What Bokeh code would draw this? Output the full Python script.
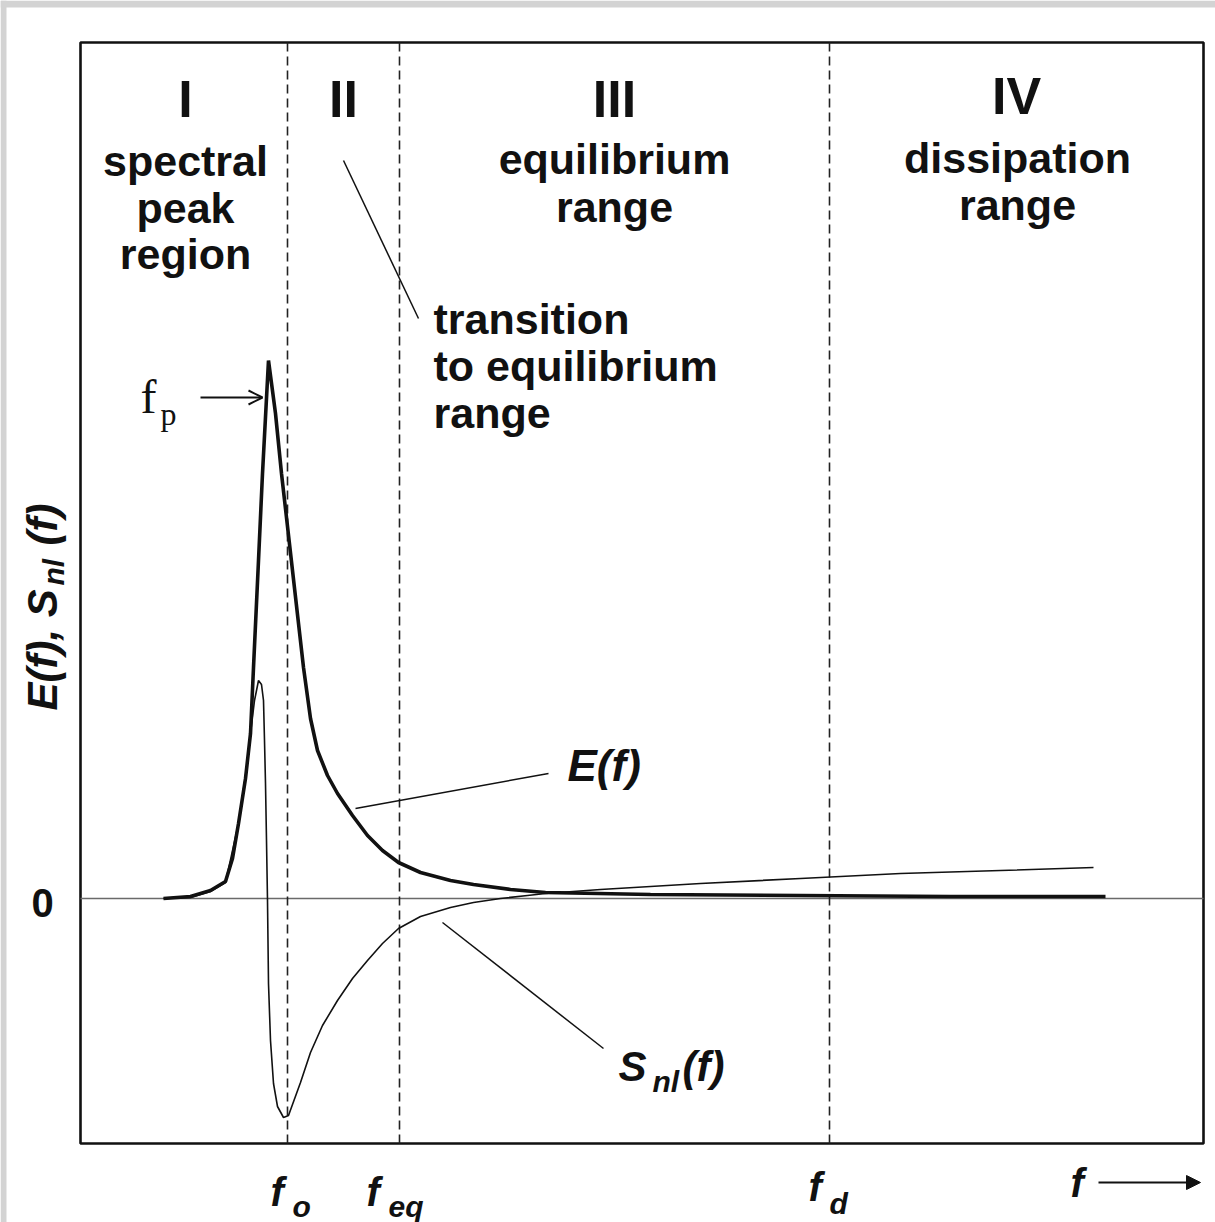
from math import pi

from bokeh.core.properties import value
from bokeh.embed import file_html
from bokeh.models import Arrow, NormalHead, OpenHead, Range1d
from bokeh.plotting import figure
from bokeh.resources import INLINE

# ---------------------------------------------------------------------------
# Schematic wave spectrum E(f) and non-linear transfer S_nl(f)
# (arbitrary units; frequency increases to the right)
# ---------------------------------------------------------------------------
freq_E = [0.83, 1.10, 1.30, 1.45, 1.52, 1.58, 1.65, 1.70, 1.73, 1.78, 1.82,
          1.88, 1.95, 2.01, 2.12, 2.23, 2.30, 2.37, 2.47, 2.57, 2.72, 2.87,
          3.02, 3.18, 3.40, 3.70, 3.93, 4.30, 4.65, 5.70, 7.20, 8.70, 10.25]
energy = [0.00, 0.02, 0.08, 0.17, 0.40, 0.75, 1.20, 1.65, 2.31, 3.38, 4.25,
          5.38, 4.85, 4.25, 3.28, 2.31, 1.80, 1.48, 1.23, 1.05, 0.83, 0.63,
          0.48, 0.36, 0.26, 0.18, 0.14, 0.09, 0.06, 0.04, 0.03, 0.02, 0.02]

freq_S = [0.83, 1.10, 1.30, 1.45, 1.58, 1.66, 1.70, 1.74, 1.78, 1.81, 1.83,
          1.84, 1.85, 1.86, 1.87, 1.88, 1.90, 1.93, 1.97, 2.03, 2.08, 2.12,
          2.20, 2.30, 2.42, 2.57, 2.72, 2.87, 3.02, 3.18, 3.40, 3.70, 3.93,
          4.20, 4.47, 4.65, 5.20, 6.20, 7.20, 8.20, 9.20, 10.13]
transfer = [0.00, 0.01, 0.07, 0.16, 0.75, 1.30, 1.65, 1.98, 2.18, 2.14, 1.98,
            1.58, 1.15, 0.58, -0.02, -0.85, -1.42, -1.85, -2.08, -2.19, -2.17,
            -2.06, -1.84, -1.54, -1.27, -1.02, -0.80, -0.62, -0.45, -0.30,
            -0.18, -0.09, -0.04, 0.00, 0.03, 0.05, 0.09, 0.15, 0.20, 0.25,
            0.28, 0.31]

# characteristic frequencies separating the four ranges
boundary_names = ["f_o", "f_eq", "f_d"]
boundary_freqs = [2.07, 3.19, 7.49]
f_peak = 1.88

# range names
range_numerals = ["I", "II", "III", "IV"]
range_centres = [1.05, 2.63, 5.34, 9.36]

# plotting box (data units)
F_MIN, F_MAX = 0.0, 11.23
Y_MIN, Y_MAX = -2.45, 8.56

INK = "#111111"
SANS = value("Liberation Sans")
SERIF = value("Liberation Serif")

p = figure(width=1215, height=1222,
           x_range=Range1d(-0.80, 11.35), y_range=Range1d(-3.24, 8.98),
           x_axis_type=None, y_axis_type=None,
           output_backend="svg", toolbar_location=None, min_border=0)
p.outline_line_color = None
p.background_fill_color = "white"
p.border_fill_color = "white"

# light page edge (top and left)
p.quad(left=[-0.80, -0.80], right=[11.35, -0.74], top=[8.98, 8.98],
       bottom=[8.91, -3.24], fill_color="#d3d3d3", line_color=None)

# plot box
p.quad(left=[F_MIN], right=[F_MAX], bottom=[Y_MIN], top=[Y_MAX],
       fill_color=None, line_color=INK, line_width=2.6)

# zero line
p.line([F_MIN, F_MAX], [0, 0], line_color="#6a6a6a", line_width=1.6)

# range boundaries
for fb in boundary_freqs:
    p.line([fb, fb], [Y_MIN, Y_MAX], line_color="#222222", line_width=1.6,
           line_dash="9 5")

# curves
p.line(freq_S, transfer, line_color=INK, line_width=1.6)
p.line(freq_E, energy, line_color=INK, line_width=3.6)

# leader lines
p.segment(x0=[2.63, 2.75, 3.62], y0=[7.38, 0.90, -0.24],
          x1=[3.38, 4.68, 5.23], y1=[5.80, 1.25, -1.50],
          line_color=INK, line_width=1.5)


def label(x, y, text, size, style="bold", align="left", font=SANS, angle=0.0):
    p.text(x=x, y=y, text=text, angle=angle, text_font=font,
           text_font_style=style, text_font_size=size, text_align=align,
           text_baseline="middle", text_color=INK)


# Roman numerals
label(range_centres, [8.00, 8.00, 8.00, 8.03], range_numerals, "52px",
      align="center")

# range descriptions
label([1.05, 1.05, 1.05, 5.34, 5.34, 9.37, 9.37],
      [7.38, 6.91, 6.45, 7.40, 6.92, 7.41, 6.94],
      ["spectral", "peak", "region", "equilibrium", "range",
       "dissipation", "range"], "43px", align="center")
label([3.53, 3.53, 3.53], [5.80, 5.33, 4.86],
      ["transition", "to equilibrium", "range"], "43px")

# curve labels
label([4.87], [1.33], ["E(f)"], "44px", style="bold italic")
label([5.38, 6.02], [-1.68, -1.68], ["S", "(f)"], "42px", style="bold italic")
label([5.72], [-1.83], ["nl"], "30px", style="bold italic")

# zero label
label([-0.38], [-0.04], ["0"], "40px", align="center")

# vertical quantity label
label([-0.385, -0.385], [1.88, 3.53], ["E(f), S", "(f)"], "42px",
      style="bold italic", angle=pi / 2)
label([-0.27], [3.13], ["nl"], "30px", style="bold italic", angle=pi / 2)

# frequency labels below the box
label([1.90, 2.86, 7.28, 9.90], [-2.93, -2.93, -2.88, -2.84],
      ["f", "f", "f", "f"], "40px", style="bold italic")
label([2.12, 3.08, 7.49], [-3.08, -3.08, -3.05], ["o", "eq", "d"], "30px",
      style="bold italic")
p.add_layout(Arrow(x_start=10.18, y_start=-2.84, x_end=11.20, y_end=-2.84,
                   line_color=INK, line_width=2.2,
                   end=NormalHead(size=14, fill_color=INK, line_color=INK)))

# spectral peak marker
label([0.60], [5.02], ["f"], "48px", style="normal", font=SERIF)
label([0.80], [4.85], ["p"], "32px", style="normal", font=SERIF)
p.add_layout(Arrow(x_start=1.20, y_start=5.01, x_end=f_peak - 0.06,
                   y_end=5.01, line_color=INK, line_width=2,
                   end=OpenHead(size=14, line_color=INK, line_width=2)))

open("out.html", "w").write(file_html(p, INLINE))
